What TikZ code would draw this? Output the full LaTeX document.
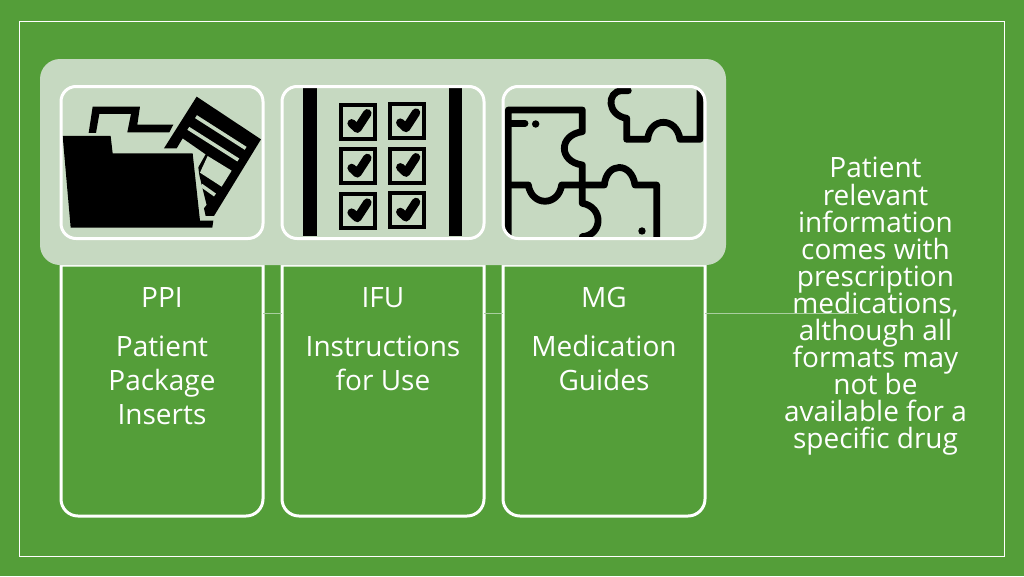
\documentclass[tikz,border=0pt]{standalone}
\usepackage{fontspec}
\setmainfont{Open Sans}
\usetikzlibrary{positioning}
\definecolor{slidegreen}{HTML}{549E39}
\definecolor{panelgreen}{HTML}{C6D9C1}
\definecolor{linkgreen}{HTML}{A9CE9F}
\begin{document}
\begin{tikzpicture}[x=1pt,y=-1pt,node distance=19pt,
    iconbox/.style = {draw=white,line width=3pt,rounded corners=15pt,outer sep=0pt,minimum width=202pt,minimum height=152pt},
    lowerbox/.style = {outer sep=0pt,minimum width=202pt,minimum height=251pt},
    boxlabel/.style = {text=white,align=center,anchor=north,inner sep=0pt,font=\fontsize{28}{34}\selectfont},
    puzzleline/.style = {line width=6.8pt,line cap=round,line join=round}]
\useasboundingbox (0,0) rectangle (1024,576);
\fill[slidegreen] (0,0) rectangle (1024,576);
\node[draw=white,line width=0.8pt,minimum width=985pt,minimum height=535pt,outer sep=0pt] (frame) at (511.5,288.5) {};
% lower boxes and links
\node[lowerbox] (ppibox) at (162,390.5) {};
\node[lowerbox,right=of ppibox] (ifubox) {};
\node[lowerbox,right=of ifubox] (mgbox) {};
\foreach \boxname in {ppibox,ifubox,mgbox}
    \draw[white,line width=3pt] (\boxname.north west) -- (\boxname.north east) [rounded corners=17pt] -- (\boxname.south east) -- (\boxname.south west) [sharp corners] -- cycle;
\coordinate (linklevel) at (0,313.7);
\coordinate (linkend) at (858,313.7);
\draw[linkgreen,line width=1.2pt] (ppibox.east |- linklevel) -- (ifubox.west |- linklevel);
\draw[linkgreen,line width=1.2pt] (ifubox.east |- linklevel) -- (mgbox.west |- linklevel);
\draw[linkgreen,line width=1.2pt] (mgbox.east |- linklevel) -- (linkend);
% panel
\node[fill=panelgreen,rounded corners=20pt,minimum width=686pt,minimum height=206pt,outer sep=0pt] (panel) at (383,162) {};
% icons
\begin{scope}[shift={(40,60)},x=0.3333pt,y=-0.3333pt]
\fill (470,110) -- (663,238) -- (522,468) -- (497,468) -- (492,445) -- (500,435) -- (490,395) -- (478,345) -- (475,322) -- (497,283) -- (428,235) -- (410,265) -- (372,265) -- cycle;
\fill[panelgreen] (503,288) -- (575,332) -- (545,380) -- (480,338) -- cycle;
\draw[panelgreen,line width=3.5pt] (468,170) -- (617,265);
\draw[panelgreen,line width=3.5pt] (445,205) -- (595,300);
\draw[panelgreen,line width=3.5pt] (484,376) -- (525,405);
\fill (146,219) -- (158,140) -- (300,140) -- (292,194) -- (400,194) -- (388,217) -- (262,217) -- (273,162) -- (178,162) -- (168,219) -- cycle;
\fill (68,228) -- (212,228) -- (218,280) -- (458,280) -- (480,482) -- (520,482) -- (517,503) -- (92,503) -- cycle;
\end{scope}
\begin{scope}[shift={(270,60)},x=0.3333pt,y=-0.3333pt]
\fill (100,81) rectangle (140,528);
\fill (537,81) rectangle (577,528);
\foreach \cx/\cy in {265/185,411/183,265/319,411/317,265/453,411/451} {
    \draw[line width=4.3pt] (\cx-51,\cy-51) rectangle (\cx+51,\cy+51);
    \draw[line width=8.5pt,line cap=round,line join=round] (\cx-20,\cy+5) -- (\cx-3,\cy+21) -- (\cx+27,\cy-25);
}
\end{scope}
\begin{scope}[shift={(495,60)},x=0.3333pt,y=-0.3333pt]
\clip[rounded corners=15pt] (25,80) rectangle (630,532);
\draw[puzzleline] (40,540) -- (40,150) -- (262,150) -- (262,215) .. controls (190,225) and (190,305) .. (262,315) -- (262,430) .. controls (325,440) and (325,525) .. (262,530);
\draw[puzzleline] (40,375) -- (100,375) .. controls (110,440) and (190,440) .. (200,375) -- (328,375) .. controls (335,305) and (410,305) .. (420,375) -- (485,375) -- (485,540);
\draw[puzzleline] (45,190) -- (90,190);
\fill (122,192) circle (3.7pt);
\fill (441,513) circle (3.7pt);
\draw[puzzleline] (400,92) -- (380,92) .. controls (335,95) and (335,165) .. (395,175) -- (395,238) -- (458,238) .. controls (465,170) and (545,170) .. (555,238) -- (615,238) -- (615,80);
\end{scope}
\node[iconbox] (ppiicon) at (162,162.5) {};
\node[iconbox,right=of ppiicon] (ifuicon) {};
\node[iconbox,right=of ifuicon] (mgicon) {};
% labels
\node[boxlabel] (ppilabel) at (162,287) {PPI\\[15pt]Patient\\Package\\Inserts};
\node[boxlabel] (ifulabel) at (383,287) {IFU\\[15pt]Instructions\\for Use};
\node[boxlabel] (mglabel) at (604,287) {MG\\[15pt]Medication\\Guides};
\node[text=white,align=center,inner sep=0pt,font={\fontsize{28}{27.1}\selectfont\lineskiplimit=-10pt}] (notetext) at (875.5,306.5) {Patient\\relevant\\information\\comes with\\prescription\\medications,\\although all\\formats may\\not be\\available for a\\specific drug};
\end{tikzpicture}
\end{document}
